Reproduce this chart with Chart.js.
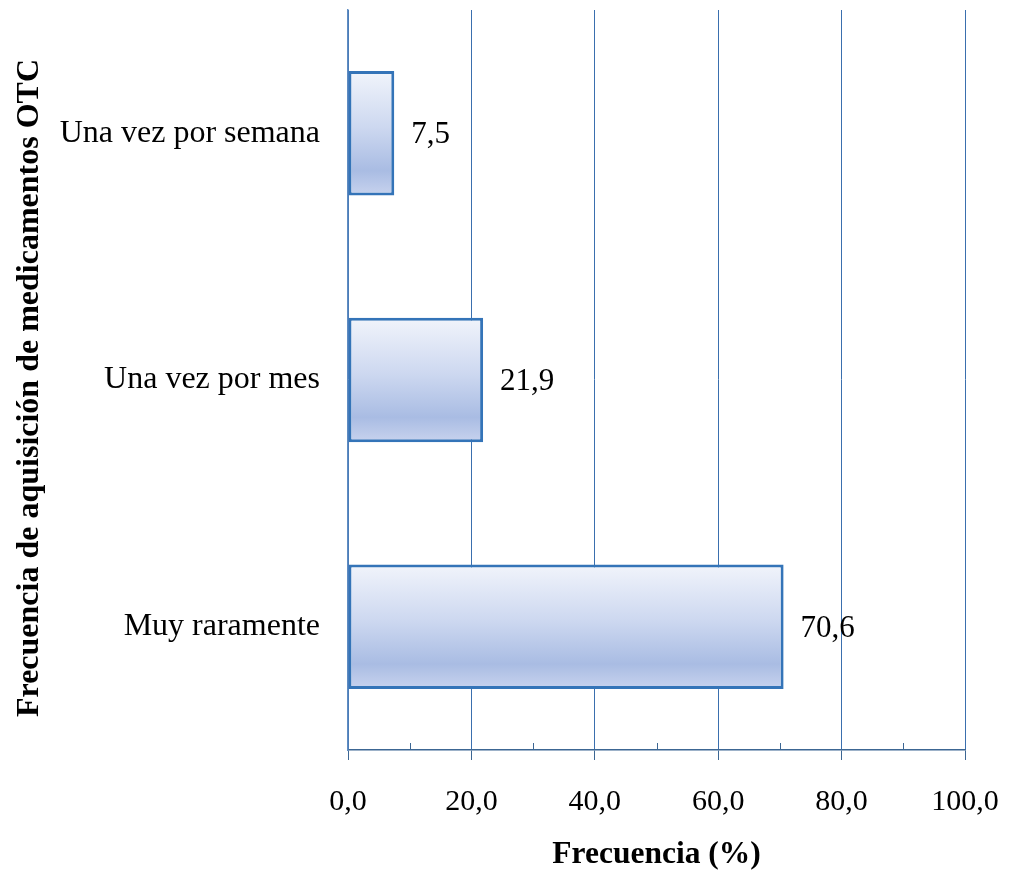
<!DOCTYPE html>
<html>
<head>
<meta charset="utf-8">
<script src="https://cdn.jsdelivr.net/npm/chart.js@4/dist/chart.umd.min.js"></script>
<style>
  html, body { margin: 0; padding: 0; background: #ffffff; }
  #wrap { width: 1009px; height: 874px; position: relative; }
</style>
</head>
<body>
<div id="wrap"><canvas id="chart" width="1009" height="874"></canvas></div>
<script>
// Frecuencia de aquisición de medicamentos OTC (%)
const categories = ['Una vez por semana', 'Una vez por mes', 'Muy raramente'];
const frecuencia = [7.5, 21.9, 70.6];
const xTicks = [0, 20, 40, 60, 80, 100];
const minorTicks = [10, 30, 50, 70, 90];
const yTitle = 'Frecuencia de aquisición de medicamentos OTC';
const xTitle = 'Frecuencia (%)';

const SERIF = '"Liberation Serif", "Times New Roman", serif';
const fmt = v => v.toFixed(1).replace('.', ',');

const BAR_PCT = 0.505;

// vertical gradient per bar, computed from the category scale
function barFill(ctx) {
  const chart = ctx.chart;
  const y = chart.scales && chart.scales.y;
  if (!chart.chartArea || !y || ctx.dataIndex === undefined) return '#c3cfeb';
  const center = y.getPixelForValue(ctx.dataIndex);
  const half = (y.height / categories.length) * BAR_PCT / 2;
  const g = chart.ctx.createLinearGradient(0, center - half, 0, center + half);
  g.addColorStop(0, '#f1f4fb');
  g.addColorStop(0.45, '#cdd8f0');
  g.addColorStop(0.8, '#a9bce3');
  g.addColorStop(1, '#c8d3ee');
  return g;
}

// value labels, minor tick marks and the vertical axis title
const extras = {
  id: 'extras',
  afterDatasetsDraw(chart) {
    const { ctx, scales: { x, y } } = chart;
    ctx.save();
    ctx.font = '31px ' + SERIF;
    ctx.fillStyle = '#000000';
    ctx.textAlign = 'left';
    ctx.textBaseline = 'middle';
    frecuencia.forEach((v, i) => {
      ctx.fillText(fmt(v), x.getPixelForValue(v) + 17, y.getPixelForValue(i) + 2);
    });
    ctx.strokeStyle = '#3c6693';
    ctx.lineWidth = 1;
    const b = Math.round(chart.chartArea.bottom);
    minorTicks.forEach(v => {
      const px = Math.round(x.getPixelForValue(v)) + 0.5;
      ctx.beginPath();
      ctx.moveTo(px, b - 7);
      ctx.lineTo(px, b);
      ctx.stroke();
    });
    ctx.restore();
  },
  afterDraw(chart) {
    const { ctx } = chart;
    ctx.save();
    ctx.translate(30, 388);
    ctx.rotate(-Math.PI / 2);
    ctx.font = 'bold 32px ' + SERIF;
    ctx.fillStyle = '#000000';
    ctx.textAlign = 'center';
    ctx.textBaseline = 'middle';
    ctx.fillText(yTitle, 0, 0);
    ctx.restore();
  }
};

new Chart(document.getElementById('chart'), {
  type: 'bar',
  data: {
    labels: categories,
    datasets: [{
      data: frecuencia,
      backgroundColor: barFill,
      borderColor: '#3474b8',
      borderWidth: 3,
      borderSkipped: false,
      barPercentage: BAR_PCT,
      categoryPercentage: 1
    }]
  },
  options: {
    indexAxis: 'y',
    responsive: false,
    animation: false,
    layout: { padding: { top: 10, right: 44, left: 0, bottom: 0 } },
    plugins: { legend: { display: false }, tooltip: { enabled: false } },
    scales: {
      x: {
        min: 0, max: 100,
        afterBuildTicks(scale) { scale.ticks = xTicks.map(v => ({ value: v })); },
        afterFit(scale) {
          scale.height = 874 - 750;
          scale.paddingLeft = 0;
          scale.paddingRight = 0;
        },
        ticks: {
          callback: v => fmt(v),
          font: { family: SERIF, size: 30 },
          color: '#000000',
          padding: 24,
          maxRotation: 0
        },
        grid: {
          color: '#3a6fae',
          lineWidth: 1,
          borderDash: [2, 2],
          tickLength: 10,
          tickColor: '#3c6693',
          tickBorderDash: []
        },
        border: { display: true, color: '#3c6693', width: 1.5 },
        title: {
          display: true,
          text: xTitle,
          font: { family: SERIF, size: 31.5, weight: 'bold' },
          color: '#000000',
          padding: { top: 0, bottom: 0 }
        }
      },
      y: {
        afterFit(scale) {
          scale.width = 348;
          scale.paddingTop = 0;
          scale.paddingBottom = 0;
        },
        ticks: {
          font: { family: SERIF, size: 32 },
          color: '#000000',
          padding: 20
        },
        grid: { display: false },
        border: { display: true, color: '#5f8cc2', width: 1.5 },
        title: { display: false }
      }
    }
  },
  plugins: [extras]
});
</script>
</body>
</html>
